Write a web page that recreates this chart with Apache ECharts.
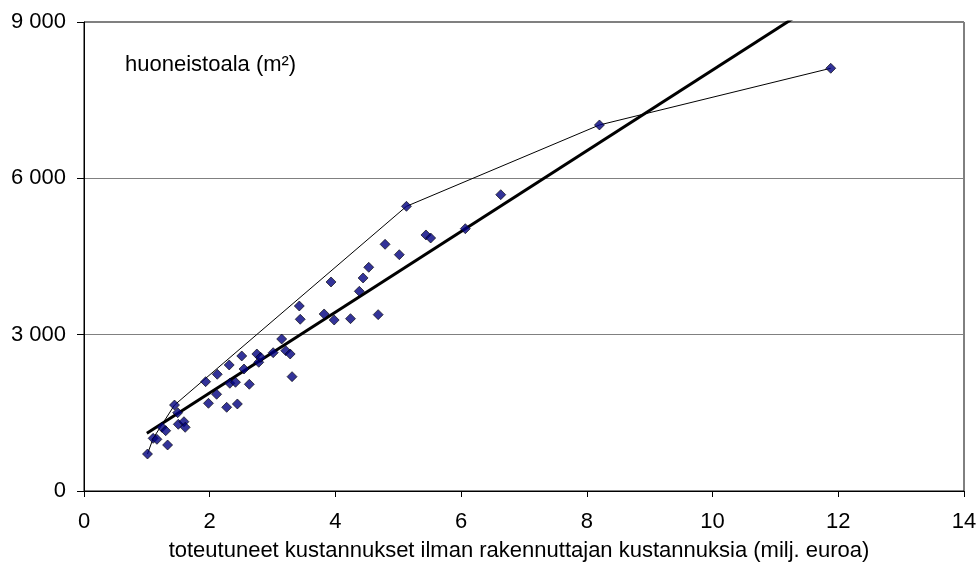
<!DOCTYPE html>
<html>
<head>
<meta charset="utf-8">
<script src="https://cdn.jsdelivr.net/npm/echarts@6/dist/echarts.min.js"></script>
<style>html,body{margin:0;padding:0;background:#fff}#c{width:978px;height:564px}</style>
</head>
<body>
<div id="c"></div>
<script>
// costs (milj. euroa)
var costX = [1.01,1.10,1.16,1.24,1.30,1.33,1.44,1.49,1.50,1.59,1.61,1.935,1.98,2.11,2.12,2.27,2.31,2.32,2.41,2.44,2.51,2.545,2.63,2.75,2.78,2.81,3.01,3.145,3.21,3.28,3.31,3.425,3.44,3.82,3.93,3.98,4.24,4.38,4.44,4.53,4.68,4.79,5.016,5.13,5.44,5.515,6.066,6.63,8.20,11.88];
// floor area (m2)
var areaY = [710,1011,992,1222,1157,883,1650,1503,1280,1330,1222,2098,1683,1856,2240,1606,2418,2067,2086,1670,2591,2341,2048,2629,2470,2566,2654,2917,2693,2629,2194,3550,3295,3397,4011,3281,3307,3832,4088,4293,3384,4734,4535,5463,4913,4855,5034,5686,7024,8112];
// upper envelope line
var envX = [1.01,1.10,1.44,5.13,8.20,11.88];
var envY = [710,1011,1650,5463,7024,8112];
// trend line end points
var trendX = [1.0,11.88];
var trendY = [1107,9534];
var xTicks = [0,2,4,6,8,10,12,14];
var yTicks = [0,3000,6000,9000];

function zip(a,b){return a.map(function(v,i){return [v,b[i]];});}
var FONT = 'Liberation Sans';
var chart = echarts.init(document.getElementById('c'));
chart.setOption({
  animation:false,
  backgroundColor:'#fff',
  grid:{left:84,right:14,top:22,bottom:73,containLabel:false,outerBoundsMode:'none',show:true,borderColor:'#000',borderWidth:1,backgroundColor:'transparent'},
  xAxis:{type:'value',min:xTicks[0],max:xTicks[xTicks.length-1],interval:2,
    name:'toteutuneet kustannukset ilman rakennuttajan kustannuksia (milj. euroa)',
    nameLocation:'middle',nameGap:49,
    nameTextStyle:{fontFamily:FONT,fontSize:22,color:'#000',padding:[0,10,0,0]},
    axisLine:{lineStyle:{color:'#000',width:1}},
    axisTick:{show:true,inside:false,length:6,lineStyle:{color:'#000'}},
    axisLabel:{fontFamily:FONT,fontSize:22,color:'#000',margin:20},
    splitLine:{show:false}},
  yAxis:{type:'value',min:yTicks[0],max:yTicks[yTicks.length-1],interval:3000,
    axisLine:{show:true,lineStyle:{color:'#000',width:1}},
    axisTick:{show:true,inside:false,length:7,lineStyle:{color:'#000'}},
    axisLabel:{fontFamily:FONT,fontSize:22,color:'#000',margin:18,
      formatter:function(v){return String(v).replace(/\B(?=(\d{3})+(?!\d))/g,' ');}},
    splitLine:{show:true,lineStyle:{color:'#808080',width:1}}},
  graphic:[{type:'text',left:125,top:54,style:{text:'huoneistoala (m²)',font:'22px "Liberation Sans"',fill:'#000'}}],
  series:[
    {type:'line',data:zip(envX,envY),symbol:'none',lineStyle:{color:'#000',width:1},z:2},
    {type:'line',data:zip(trendX,trendY),symbol:'none',clip:true,lineStyle:{color:'#000',width:3},z:3},
    {type:'scatter',data:zip(costX,areaY),symbol:'diamond',symbolSize:10,
      itemStyle:{color:'#000080',borderColor:'#000',borderWidth:0.8},z:4}
  ]
});
</script>
</body>
</html>
